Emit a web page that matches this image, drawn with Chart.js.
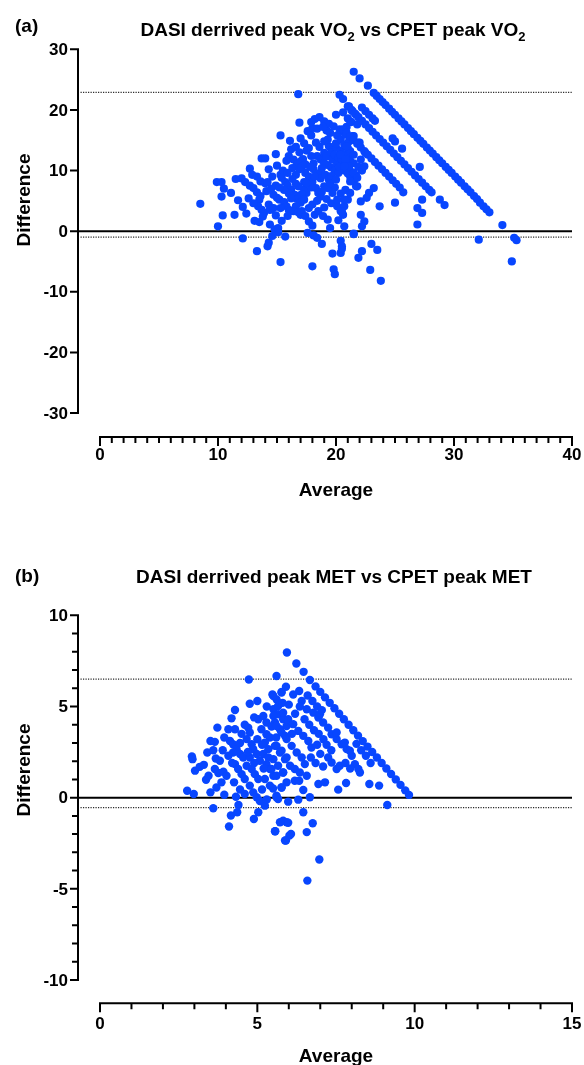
<!DOCTYPE html>
<html>
<head>
<meta charset="utf-8">
<script src="https://cdn.jsdelivr.net/npm/chart.js@4.4.1/dist/chart.umd.min.js"></script>
<style>
  html, body { margin: 0; background: #fff; overflow: hidden; }
  .panel { position: absolute; left: 0; width: 584px; }
  .txt { position: absolute; font-family: "Liberation Sans", Arial, sans-serif; font-weight: bold; font-size: 19px; line-height: 1; color: #000; white-space: nowrap; }
  .ctr { transform: translateX(-50%); }
  .rot { transform: translate(-50%, -50%) rotate(-90deg); }
  sub { font-size: 13px; vertical-align: -5px; line-height: 0; }
</style>
</head>
<body>
<div class="panel" style="top:0;height:530px"><canvas id="chartA"></canvas></div>
<div class="panel" style="top:530px;height:535px"><canvas id="chartB"></canvas></div>

<div class="txt" style="left:15px;top:16px">(a)</div>
<div class="txt ctr" style="left:333px;top:20px">DASI derrived peak VO<sub>2</sub> vs CPET peak VO<sub>2</sub></div>
<div class="txt rot" style="left:23px;top:200px">Difference</div>
<div class="txt ctr" style="left:336px;top:480px">Average</div>

<div class="txt" style="left:15px;top:566px">(b)</div>
<div class="txt ctr" style="left:334px;top:567px">DASI derrived peak MET vs CPET peak MET</div>
<div class="txt rot" style="left:23px;top:770px">Difference</div>
<div class="txt ctr" style="left:336px;top:1046px">Average</div>

<script>
// ---- (a) peak VO2: [average, difference] ----
const aLeft = [[8.5,4.5],[10.0,0.8],[10.4,2.6],[10.3,5.7],[10.5,7.0],[9.9,8.1],[10.3,8.1],[11.1,6.3],[11.4,2.7],[12.1,-1.2],[13.3,-3.3],[15.3,-5.1],[12.0,8.7],[12.3,8.1],[12.7,7.5],[13.0,7.1],[13.3,6.4],[13.6,5.8],[13.5,5.2],[12.7,10.3],[12.9,9.3],[13.3,9.0],[13.6,8.2],[14.0,7.9],[14.2,8.1],[13.4,4.1],[13.7,3.5],[13.9,3.0],[13.8,2.4],[13.5,1.5],[13.1,1.7],[12.1,4.0],[12.4,2.9],[13.0,4.6],[12.6,5.4],[11.7,5.1],[11.5,8.6]];
const aMid = [[14.3,4.4],[14.4,3.5],[14.7,3.8],[15.0,5.5],[14.7,6.0],[14.9,7.5],[15.2,5.2],[15.6,4.8],[15.8,4.1],[16.0,3.5],[15.3,9.3],[15.4,8.8],[15.7,8.1],[15.9,7.5],[16.2,6.8],[16.5,6.0],[16.7,5.3],[17.0,4.7],[16.6,4.1],[16.4,3.3],[16.8,3.1],[17.0,2.7],[16.1,3.3],[15.9,2.5],[14.4,1.1],[14.8,0.3],[15.1,-0.2],[15.4,1.7],[14.6,-0.8],[15.1,0.5],[15.7,-0.9],[14.3,-1.9],[14.2,-2.5],[16.0,12.4],[16.2,13.5],[16.6,13.9],[16.9,13.0],[16.4,11.8],[16.7,11.0],[16.3,10.4],[16.9,10.2],[16.6,9.3],[13.7,12.0],[14.0,12.0],[14.9,12.7],[15.3,15.8],[16.1,14.9],[16.8,22.6],[16.9,17.9],[16.0,6.2],[15.6,6.8],[15.2,7.2],[14.6,9.0],[14.3,10.2],[15.0,10.8],[15.8,11.6],
  [14.1,6.6],[14.5,7.0],[15.5,10.0],[15.9,9.6],[16.3,8.6],[16.6,7.8],[16.2,5.4],[15.3,3.8],[14.9,2.6]];
const aCore = [[17.6,16.5],[18.0,17.0],[18.4,16.9],[17.9,15.8],[17.7,13.7],[18.3,14.6],[18.6,13.9],[18.6,18.8],[19.0,18.1],[19.2,16.6],[18.4,12.4],[18.7,11.8],[19.0,12.9],[17.4,9.6],[17.7,9.0],[18.0,8.1],[18.3,7.1],[18.5,6.3],[18.7,5.7],[18.1,10.2],[18.5,9.5],[18.7,8.7],[19.1,9.3],[19.4,8.5],[19.0,7.4],[17.1,3.3],[17.4,2.5],[17.7,1.6],[18.0,0.9],[18.2,2.7],[18.5,3.3],[17.6,-0.3],[18.1,-0.7],[18.4,-1.1],[17.7,3.8],[17.5,6.3],[17.3,6.9],[19.5,0.5],[18.8,-2.1],[18.0,-5.8],[19.7,-3.7],[19.8,-6.3],[19.9,-7.1],[19.4,14.0],[19.7,13.5],[19.3,15.1],[19.5,16.2],[19.0,14.8],
  [19.6,10.5],[19.9,10.0],[20.2,9.6],[19.3,10.9],[19.0,11.2],[18.8,10.4],[19.2,12.3],[19.6,13.0],[20.0,13.8],[20.4,13.3],[20.6,12.7],[20.9,12.4],[21.2,11.6],[21.5,11.2],[21.9,10.6],[22.2,10.0],[20.0,14.5],[20.5,16.4],[20.9,17.2],[21.0,18.6],[20.6,19.6],[19.4,17.7],[18.9,17.2],[17.9,12.4],[18.1,11.2],[17.2,11.9],[17.5,13.3],[17.0,11.5],[17.3,8.1],[16.8,7.4],[17.1,6.1],[18.8,6.5],[19.2,5.3],[19.6,4.6],[19.0,3.9],[18.9,2.5],[19.3,1.9],[20.2,1.8],
  [17.1,10.6],[17.4,11.0],[17.8,10.6],[18.2,9.0],[17.9,7.2],[17.5,7.9],[17.3,5.2],[18.0,4.4],[18.4,5.0],[19.6,9.1],[19.9,7.2],[20.4,6.2],[20.8,6.8],[21.2,6.3],[17.3,14.5],[17.0,15.3],[18.2,18.5],[17.9,18.0]];
const aRight = [[20.4,-1.6],[20.5,-2.5],[20.4,-3.6],[21.5,-0.4],[20.1,4.1],[20.4,3.3],[20.7,4.1],[20.6,2.7],[21.0,5.2],[20.1,5.2],[19.7,6.3],[19.3,7.1],[19.5,7.9],[20.0,8.5],[19.7,11.8],[20.1,11.2],[20.3,10.6],[20.7,10.0],[21.0,9.5],[21.2,9.0],[21.5,8.2],[21.8,7.4],[19.9,12.6],[20.2,12.1],[20.5,11.8],[20.8,11.0],[21.1,10.4],[21.4,9.7],[21.7,9.2],[19.8,17.3],[20.1,15.8],[20.4,15.1],[20.7,14.3],[21.0,13.7],[21.2,13.2],[21.5,12.6],[20.3,16.8],[20.0,19.2],[20.3,22.5],[20.6,21.8],[21.1,20.6],[21.4,19.8],[21.7,19.2],[21.3,18.0],[21.8,17.6],[20.8,15.9],[21.1,14.8],[21.5,15.7],[22.0,14.6],[21.5,26.3],[22.0,25.2],[22.7,24.0],[20.4,12.6],[20.8,11.8],[21.1,10.7],[21.5,9.6],[21.8,8.8],[21.7,7.4],[21.2,8.2],[20.7,10.7],[22.1,11.8],[22.4,10.7],[21.9,14.6],[21.4,15.7],[20.9,14.0],[21.2,18.1],[22.5,12.9]];
const aOuter = [[23.2,7.1],[22.8,6.3],[22.6,5.5],[22.1,4.9],[22.1,2.7],[22.4,1.6],[22.2,0.8],[21.5,-0.5],[20.7,0.8],[20.5,3.3],[20.7,5.2],[23.0,-2.1],[23.5,-3.1],[22.2,-3.3],[21.9,-4.4],[22.9,-6.4],[23.8,-8.2],[20.5,-2.9],[23.7,4.1],[25.0,4.7],[27.3,5.2],[26.9,3.8],[27.3,3.0],[26.9,1.1],[28.8,5.2],[29.2,4.3],[32.1,-1.4],[34.1,1.0],[35.1,-1.1],[35.3,-1.5],[34.9,-5.0]];
const aTopLine = [[23.2,22.8],[23.45,22.3],[23.7,21.8],[23.95,21.3],[24.2,20.8],[24.5,20.2],[24.75,19.7],[25.0,19.2],[25.3,18.6],[25.55,18.1],[25.8,17.6],[26.1,17.0],[26.35,16.5],[26.6,16.0],[26.9,15.4],[27.15,14.9],[27.4,14.4],[27.7,13.8],[27.95,13.3],[28.2,12.8],[28.5,12.2],[28.75,11.7],[29.0,11.2],[29.3,10.6],[29.55,10.1],[29.8,9.6],[30.1,9.0],[30.35,8.5],[30.6,8.0],[30.9,7.4],[31.15,6.9],[31.4,6.4],[31.7,5.8],[31.95,5.3],[32.2,4.7],[32.5,4.1],[32.75,3.6],[33.0,3.1]];
const aStrands = [[21.0,20.6],[21.3,20.0],[21.6,19.4],[21.9,18.8],[22.2,18.2],[22.5,17.6],[22.8,17.0],[23.1,16.4],[23.4,15.8],[23.7,15.2],[24.0,14.6],[24.3,14.0],[24.6,13.4],[24.9,12.8],[25.2,12.2],[25.5,11.6],[25.8,11.0],[26.1,10.4],[26.4,9.8],[26.7,9.2],[27.0,8.6],[27.3,8.0],[27.6,7.4],[27.9,6.8],[28.1,6.4],
  [22.2,20.4],[22.5,19.8],[22.8,19.2],[23.1,18.6],[23.3,18.2],[24.8,15.3],[25.0,14.8],[25.6,13.6],[27.1,10.6],
  [20.6,16.8],[20.9,16.2],[21.2,15.6],[21.5,15.0],[21.8,14.4],[22.1,13.8],[22.4,13.2],[22.7,12.6],[23.0,12.0],[23.3,11.4],[23.6,10.8],[23.9,10.2],[24.2,9.6],[24.5,9.0],[24.8,8.4],[25.1,7.8],[25.4,7.2],[25.7,6.4]];

// ---- (b) peak MET ----
const bLeft = [[2.77,0.38],[2.98,0.2],[2.92,2.26],[2.94,2.11],[3.02,1.48],[3.17,1.69],[3.37,0.98],[3.45,1.2],[3.51,0.29],[3.6,-0.58],[3.41,2.48],[3.51,3.11],[3.65,3.06],[3.73,3.84],[3.68,2.15],[3.81,2.02],[3.65,1.57],[3.76,1.35],[3.92,1.42],[4.02,1.2],[3.86,0.84],[3.7,0.56],[3.95,0.16],[4.16,-0.98],[4.1,-1.58],[4.36,-0.8],[4.29,4.81],[4.18,4.35],[4.08,3.75],[4.29,3.75],[4.13,3.11],[4.23,2.93],[4.34,2.66],[4.45,2.39],[4.55,2.2],[4.23,2.48],[4.08,2.3],[4.29,1.84],[4.39,1.57],[4.5,1.29],[4.6,1.02],[4.26,0.84],[4.32,0.05],[4.2,1.9],[3.9,2.6],[3.6,2.6],[3.3,1.8],[3.95,3.3],[4.45,0.45],[4.6,0.2],[4.4,-0.4]];
const bMid = [[4.73,6.48],[4.76,5.15],[4.71,3.84],[4.76,3.57],[4.66,3.21],[4.82,2.93],[4.87,2.66],[4.98,2.39],[4.76,2.2],[4.66,1.75],[4.82,1.57],[4.92,1.29],[5.03,1.02],[4.76,0.66],[4.87,0.29],[4.98,0.02],[5.08,-0.18],[4.89,-1.17],[5.03,-0.8],[5.03,4.3],[5.19,4.48],[5.29,4.12],[5.13,3.75],[5.29,3.48],[5.4,3.3],[5.24,3.02],[5.35,2.66],[5.19,2.39],[5.08,2.02],[5.29,1.84],[5.4,1.57],[5.51,1.2],[5.24,1.02],[5.4,0.66],[5.61,0.11],[5.24,-0.44],[5.61,6.67],[5.48,5.66],[5.61,5.39],[5.77,5.76],[5.91,6.08],[5.51,4.85],[5.66,4.57],[5.82,4.3],[5.93,3.93],[5.56,4.12],[5.72,3.75],[5.88,3.39],[5.61,2.84],[5.77,2.57],[5.93,2.2],[5.51,2.11],[5.66,1.75],[5.82,1.38],[5.77,0.56],[5.93,0.84],[5.66,-0.07],[5.82,-1.26],[5.93,-1.35],[5.57,-1.84],[5.91,-2.35],[6.02,-2.08],
  [4.5,3.5],[4.6,4.0],[4.9,4.4],[5.0,3.2],[5.15,2.9],[4.9,1.9],[5.2,1.6],[5.35,2.2],[5.45,3.9],[5.3,5.0],[5.0,5.3],[4.45,3.0],[4.7,2.5],[5.6,3.3],[5.15,0.45],[5.5,0.5],[5.3,-0.1]];
const bRight = [[5.77,5.79],[6.14,5.66],[6.33,5.85],[6.41,5.3],[6.57,4.85],[6.78,4.66],[6.94,4.39],[7.09,4.12],[7.25,3.84],[7.36,3.48],[7.52,3.21],[7.68,2.93],[7.84,2.66],[8.0,2.3],[8.1,1.84],[8.21,1.57],[8.26,1.38],[7.52,3.57],[7.78,3.02],[7.94,2.57],[7.09,1.71],[7.36,1.93],[7.52,1.57],[7.62,1.75],[6.94,0.75],[7.15,0.84],[7.57,0.44],[7.82,0.8],[8.56,0.75],[8.87,0.66],[9.13,-0.4],[6.67,0.02],[6.46,-0.8],[6.76,-1.4],[6.57,-1.89],[5.72,-1.35],[5.98,-1.38],[5.56,-1.84],[6.07,-1.99],[5.88,-2.35],[6.97,-3.39],[6.59,-4.55],[5.98,-0.22],[6.3,-0.11],[6.46,0.42],[6.19,0.93],[6.33,0.93],[5.77,0.56],[5.61,0.02]];
const bDense = [[5.51,5.57],[5.66,5.03],[5.82,4.66],[5.98,4.3],[6.14,4.03],[6.3,3.66],[6.46,3.39],[6.62,3.11],[6.72,2.75],[5.51,4.48],[5.61,3.93],[5.77,3.57],[5.93,3.21],[6.09,2.84],[6.25,2.48],[6.41,2.2],[6.51,1.84],[5.56,2.84],[5.72,2.48],[5.88,2.11],[6.04,1.75],[6.19,1.57],[6.35,1.38],[6.57,1.2],[5.45,1.57],[5.61,1.2],[5.82,1.38],[6.99,4.57],[6.6,5.6],[6.75,5.3],[6.9,5.0],[7.05,4.8],[6.5,4.3],[6.65,4.0],[6.8,3.7],[6.95,3.5],[7.1,3.2],[7.2,2.9],[7.35,2.6],[6.9,2.9],[7.0,2.4],[7.25,2.2],[6.7,2.2],[6.85,1.9],[7.8,1.9],[7.95,1.6],[8.3,2.6],[8.45,2.3],[8.15,2.95],[8.6,1.9],[6.1,3.5],[6.2,4.6],[6.35,5.0],[6.0,5.1],[5.8,5.2]];
const bTopLine = [[5.94,7.96],[6.24,7.36],[6.47,6.9],[6.67,6.45],[6.85,6.1],[7.0,5.8],[7.15,5.5],[7.3,5.2],[7.45,4.9],[7.6,4.6],[7.75,4.3],[7.9,4.0],[8.05,3.7],[8.2,3.4],[8.35,3.1],[8.5,2.8],[8.65,2.5],[8.8,2.2],[8.95,1.9],[9.1,1.6],[9.25,1.3],[9.4,1.0],[9.55,0.7],[9.7,0.4],[9.82,0.15]];

// limits of agreement, axis ranges and tick labels
const loaA = [22.9, -1.0];
const loaB = [6.5, -0.55];
const xTicksA = [0, 10, 20, 30, 40];
const yTicksA = [-30, -20, -10, 0, 10, 20, 30];
const xTicksB = [0, 5, 10, 15];
const yTicksB = [-10, -5, 0, 5, 10];
const lineStartA = [-1.85, -1.65];   // zero line, dotted lines (x, in Average units)
const lineStartB = [-0.70, -0.62];

const BLUE = '#0846ff';
const TICK_FONT = 'bold 17px "Liberation Sans", Arial, sans-serif';

// Prism-style detached axes with tick labels, drawn from the chart's own scales
const prismAxes = {
  id: 'prismAxes',
  afterDraw(chart, args, o) {
    const { ctx, chartArea, scales: { x, y } } = chart;
    const ax = chartArea.left - o.gapY;
    const ay = chartArea.bottom + o.gapX;
    ctx.save();
    ctx.strokeStyle = '#000';
    ctx.lineWidth = 2;
    ctx.beginPath();
    ctx.moveTo(ax, y.getPixelForValue(y.max) - 1);
    ctx.lineTo(ax, y.getPixelForValue(y.min) + 1);
    for (let v = y.min; v <= y.max + 1e-6; v += o.yMinor) {
      const p = y.getPixelForValue(v);
      const len = Math.abs(v % o.yMajor) < 1e-6 ? 8 : 6;
      ctx.moveTo(ax, p);
      ctx.lineTo(ax - len, p);
    }
    ctx.moveTo(x.getPixelForValue(x.min) - 1, ay);
    ctx.lineTo(x.getPixelForValue(x.max) + 1, ay);
    for (let v = x.min; v <= x.max + 1e-6; v += o.xMinor) {
      const p = x.getPixelForValue(v);
      const len = Math.abs(v % o.xMajor) < 1e-6 ? 9 : 6;
      ctx.moveTo(p, ay);
      ctx.lineTo(p, ay + len);
    }
    ctx.stroke();

    ctx.fillStyle = '#000';
    ctx.font = TICK_FONT;
    ctx.textAlign = 'right';
    ctx.textBaseline = 'middle';
    o.yTicks.forEach(v => ctx.fillText(String(v), ax - 10, y.getPixelForValue(v) + 1));
    ctx.textAlign = 'center';
    o.xTicks.forEach(v => ctx.fillText(String(v), x.getPixelForValue(v), ay + o.labelGap));
    ctx.restore();
  }
};

function pts(groups) {
  return groups.flat().map(([a, d]) => ({ x: a, y: d }));
}

function makeChart(id, cfg) {
  const xMin = cfg.xTicks[0], xMax = cfg.xTicks[cfg.xTicks.length - 1];
  const refLine = (x0, yv, dashed) => ({
    type: 'line',
    data: [{ x: x0, y: yv }, { x: xMax, y: yv }],
    borderColor: dashed ? '#2a2a2a' : '#000',
    borderWidth: dashed ? 1.2 : 2,
    borderDash: dashed ? [1.2, 1.3] : [],
    pointRadius: 0, clip: false, order: 2
  });
  return new Chart(document.getElementById(id), {
    type: 'scatter',
    data: {
      datasets: [
        refLine(cfg.start[0], 0, false),
        refLine(cfg.start[1], cfg.loa[0], true),
        refLine(cfg.start[1], cfg.loa[1], true),
        {
          data: pts(cfg.groups),
          backgroundColor: BLUE, borderWidth: 0,
          pointRadius: cfg.radius, pointHoverRadius: cfg.radius, order: 1
        }
      ]
    },
    options: {
      responsive: true,
      maintainAspectRatio: false,
      animation: false,
      events: [],
      layout: { padding: cfg.pad },
      plugins: {
        legend: { display: false },
        tooltip: { enabled: false },
        prismAxes: Object.assign({ xTicks: cfg.xTicks, yTicks: cfg.yTicks }, cfg.axes)
      },
      scales: {
        x: { type: 'linear', display: false, min: xMin, max: xMax },
        y: { display: false, min: cfg.yTicks[0], max: cfg.yTicks[cfg.yTicks.length - 1] }
      }
    },
    plugins: [prismAxes]
  });
}

makeChart('chartA', {
  groups: [aLeft, aMid, aCore, aRight, aOuter, aTopLine, aStrands],
  loa: loaA, start: lineStartA, xTicks: xTicksA, yTicks: yTicksA,
  radius: 4.1,
  pad: { left: 100, right: 12, top: 49.3, bottom: 117 },
  axes: { gapY: 22, gapX: 24, yMinor: 10, yMajor: 10, xMinor: 1, xMajor: 10, labelGap: 18 }
});

makeChart('chartB', {
  groups: [bLeft, bMid, bRight, bDense, bTopLine],
  loa: loaB, start: lineStartB, xTicks: xTicksB, yTicks: yTicksB,
  radius: 4.2,
  pad: { left: 100, right: 12, top: 85.3, bottom: 85 },
  axes: { gapY: 22, gapX: 23.3, yMinor: 1, yMajor: 5, xMinor: 1, xMajor: 5, labelGap: 21 }
});
</script>
</body>
</html>
